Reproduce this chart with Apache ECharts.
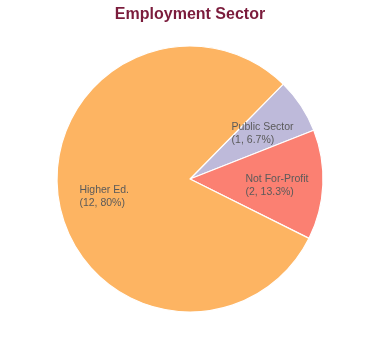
<!DOCTYPE html>
<html><head><meta charset="utf-8">
<script src="https://cdn.jsdelivr.net/npm/echarts@6/dist/echarts.min.js"></script>
<style>html,body{margin:0;padding:0;background:#fff}#c{width:380px;height:360px}</style>
</head><body><div id="c"></div>
<script>
var categories = ['Public Sector', 'Not For-Profit', 'Higher Ed.'];
var values = [1, 2, 12];
var colors = ['#bebada', '#fb8072', '#fdb462'];
var titleText = 'Employment Sector';

var data = categories.map(function (c, i) { return { name: c, value: values[i] }; });
var chart = echarts.init(document.getElementById('c'), null, { renderer: 'canvas' });
chart.setOption({
  animation: false,
  title: {
    text: titleText, left: 'center', top: 2,
    textStyle: { fontFamily: 'Liberation Sans, Arial', fontSize: 16, fontWeight: 'bold', color: '#7b1c3c' }
  },
  color: colors,
  series: [
    {
      type: 'pie', center: [190, 179], radius: [0, 133], startAngle: 45.5, clockwise: true,
      data: data, label: { show: false }, labelLine: { show: false },
      itemStyle: { borderColor: '#fff', borderWidth: 1.2 }, silent: true
    },
    {
      type: 'pie', center: [190, 179], radius: [35, 133], startAngle: 45.5, clockwise: true,
      data: data, silent: true, percentPrecision: 1,
      itemStyle: { color: 'rgba(0,0,0,0)', borderWidth: 0 },
      labelLine: { show: false },
      label: {
        show: true, position: 'inside', align: 'center', offset: [0, 3],
        formatter: function (p) { return '{a|' + p.name + '}\n{a|(' + p.value + ', ' + p.percent + '%)}'; },
        rich: { a: { fontFamily: 'Liberation Sans, Arial', fontSize: 10.5, color: '#5a5a5a', align: 'left', lineHeight: 13 } }
      }
    }
  ]
});
</script></body></html>
